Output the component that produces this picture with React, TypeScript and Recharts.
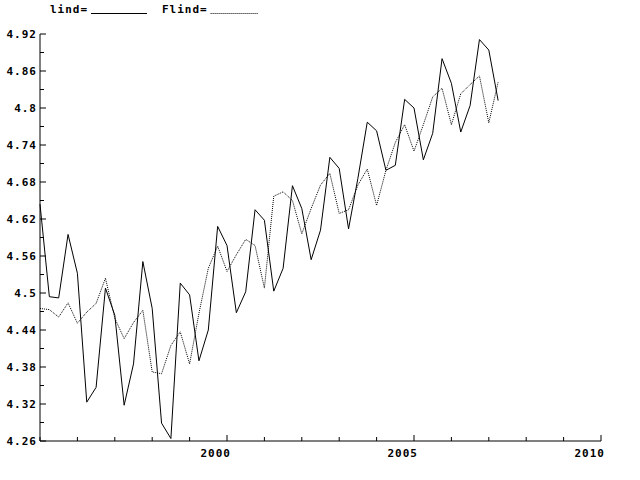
import React from "react";
import { LineChart, Line, XAxis, YAxis, Legend } from "recharts";

// quarterly observations, 1995Q1 .. 2007Q2
const quarters = [
  1995, 1995.25, 1995.5, 1995.75, 1996, 1996.25, 1996.5, 1996.75,
  1997, 1997.25, 1997.5, 1997.75, 1998, 1998.25, 1998.5, 1998.75,
  1999, 1999.25, 1999.5, 1999.75, 2000, 2000.25, 2000.5, 2000.75,
  2001, 2001.25, 2001.5, 2001.75, 2002, 2002.25, 2002.5, 2002.75,
  2003, 2003.25, 2003.5, 2003.75, 2004, 2004.25, 2004.5, 2004.75,
  2005, 2005.25, 2005.5, 2005.75, 2006, 2006.25, 2006.5, 2006.75,
  2007, 2007.25,
];

const lind = [
  4.644, 4.494, 4.492, 4.595, 4.532, 4.323, 4.347, 4.508,
  4.464, 4.318, 4.385, 4.551, 4.475, 4.289, 4.264, 4.516,
  4.497, 4.39, 4.44, 4.608, 4.577, 4.468, 4.502, 4.635,
  4.618, 4.503, 4.54, 4.674, 4.637, 4.554, 4.602, 4.72,
  4.702, 4.604, 4.686, 4.777, 4.763, 4.699, 4.707, 4.814,
  4.8, 4.716, 4.759, 4.88, 4.84, 4.761, 4.804, 4.911,
  4.894, 4.812,
];

const flind = [
  4.475, 4.473, 4.461, 4.484, 4.451, 4.469, 4.483, 4.524,
  4.459, 4.426, 4.452, 4.472, 4.372, 4.369, 4.415, 4.437,
  4.385, 4.467, 4.54, 4.576, 4.535, 4.562, 4.587, 4.577,
  4.508, 4.657, 4.664, 4.65, 4.596, 4.637, 4.675, 4.694,
  4.629, 4.635, 4.675, 4.701, 4.642, 4.699, 4.744, 4.773,
  4.73, 4.773, 4.818, 4.832, 4.773, 4.823, 4.838, 4.852,
  4.776, 4.842,
];

const seriesNames = ["lind", "Flind"];

const xTicks = [
  1995, 1996, 1997, 1998, 1999, 2000, 2001, 2002,
  2003, 2004, 2005, 2006, 2007, 2008, 2009, 2010,
];
const xLabels = [2000, 2005, 2010];

const yTicks = [
  4.26, 4.29, 4.32, 4.35, 4.38, 4.41, 4.44, 4.47, 4.5, 4.53, 4.56, 4.59,
  4.62, 4.65, 4.68, 4.71, 4.74, 4.77, 4.8, 4.83, 4.86, 4.89, 4.92,
];
const yLabels = [4.26, 4.32, 4.38, 4.44, 4.5, 4.56, 4.62, 4.68, 4.74, 4.8, 4.86, 4.92];

const rows = quarters.map((t, i) => ({ t, lind: lind[i], flind: flind[i] }));

const font = {
  fontFamily: "'DejaVu Sans Mono', monospace",
  fontWeight: 700,
  fontSize: 11,
  letterSpacing: 1,
  fill: "#000",
};

const near = (a: number, b: number) => Math.abs(a - b) < 1e-6;

function XTick(props: any) {
  const { x, y, payload } = props;
  const v = payload.value as number;
  const major = xLabels.some((l) => near(l, v));
  return (
    <g>
      <line x1={x} x2={x} y1={y} y2={y - (major ? 6 : 4)} stroke="#000" />
      {major && (
        <text x={x + 4} y={y + 16} textAnchor="end" style={font}>
          {v}
        </text>
      )}
    </g>
  );
}

function YTick(props: any) {
  const { x, y, payload } = props;
  const v = payload.value as number;
  const major = yLabels.some((l) => near(l, v));
  return (
    <g>
      <line x1={x} x2={x + (major ? 6 : 4)} y1={y} y2={y} stroke="#000" />
      {major && (
        <text x={x - 3} y={y + 4} textAnchor="end" style={font}>
          {String(Number(v.toFixed(2)))}
        </text>
      )}
    </g>
  );
}

function LegendBox(props: any) {
  const items = [...(props.payload || [])].sort(
    (a: any, b: any) => seriesNames.indexOf(a.value) - seriesNames.indexOf(b.value)
  );
  const starts = [50, 162];
  const lens = [56, 47];
  return (
    <svg width={320} height={22} style={{ display: "block", overflow: "visible" }}>
      {items.map((it: any, i: number) => {
        const label = `${it.value}=`;
        const tx = starts[i] ?? 50 + i * 112;
        const lx = tx + label.length * 7.6 + 3;
        return (
          <g key={it.value}>
            <text x={tx} y={13} style={font}>
              {label}
            </text>
            <line
              x1={lx}
              x2={lx + (lens[i] ?? 50)}
              y1={13.5}
              y2={13.5}
              stroke="#000"
              strokeDasharray={it.value === "Flind" ? "1 1" : undefined}
            />
          </g>
        );
      })}
    </svg>
  );
}

export default function App() {
  return (
    <div style={{ position: "absolute", left: 0, top: 0, background: "#fff" }}>
      <LineChart
        width={640}
        height={480}
        data={rows}
        margin={{ top: 34, right: 39, bottom: 9, left: 0 }}
      >
        <XAxis
          dataKey="t"
          type="number"
          domain={[1995, 2010]}
          ticks={xTicks}
          interval={0}
          height={30}
          tickLine={false}
          tickSize={0}
          tickMargin={0}
          axisLine={{ stroke: "#000" }}
          tick={<XTick />}
        />
        <YAxis
          type="number"
          domain={[4.26, 4.92]}
          ticks={yTicks}
          interval={0}
          width={40}
          allowDataOverflow
          tickLine={false}
          tickSize={0}
          tickMargin={0}
          axisLine={{ stroke: "#000" }}
          tick={<YTick />}
        />
        <Legend
          verticalAlign="top"
          align="left"
          content={<LegendBox />}
          wrapperStyle={{ top: 0, left: 0, width: 640, height: 0, overflow: "visible" }}
        />
        <Line
          name="lind"
          dataKey="lind"
          type="linear"
          stroke="#000"
          strokeWidth={1}
          dot={false}
          isAnimationActive={false}
        />
        <Line
          name="Flind"
          dataKey="flind"
          type="linear"
          stroke="#000"
          strokeWidth={1}
          strokeDasharray="1 1"
          dot={false}
          isAnimationActive={false}
        />
      </LineChart>
    </div>
  );
}
